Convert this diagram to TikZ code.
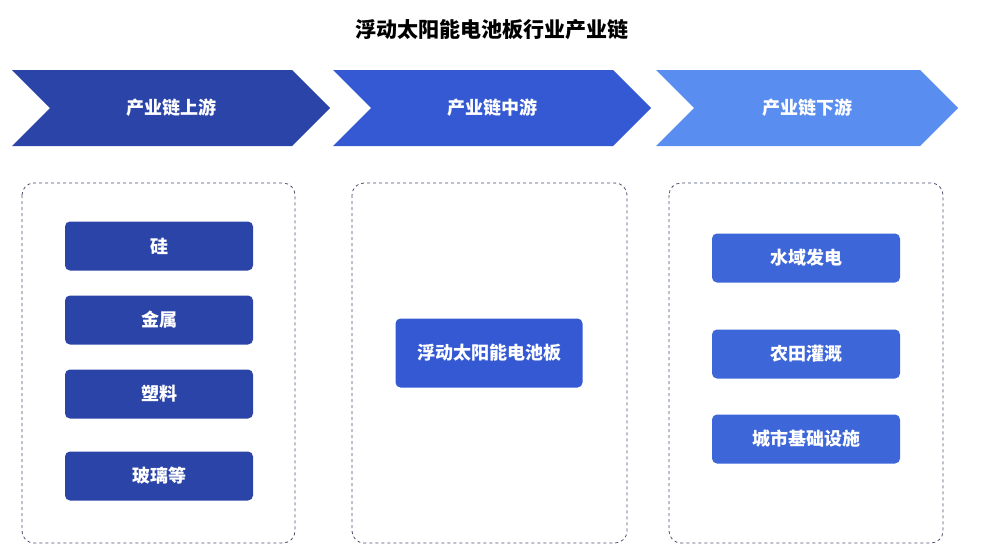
\documentclass[tikz,border=0pt]{standalone}
\usepackage{fontspec}
\setmainfont{Noto Sans CJK SC}
\usetikzlibrary{shapes.symbols}
\definecolor{updark}{HTML}{2B44A8}
\definecolor{midblue}{HTML}{3459D2}
\definecolor{downlight}{HTML}{5A8DF0}
\definecolor{frame}{HTML}{4A5070}
\tikzset{
  stage/.style={signal,signal to=east,signal from=west,signal pointer angle=90,
    minimum width=318pt,minimum height=76pt,inner sep=0pt,text=white,
    font=\bfseries\fontsize{18}{22}\selectfont},
  item/.style={draw=none,rounded corners=5pt,minimum width=188pt,minimum height=49pt,
    text=white,font=\bfseries\fontsize{18}{22}\selectfont},
  group/.style={draw=frame,dashed,rounded corners=12pt,line width=0.8pt}
}
\begin{document}
\begin{tikzpicture}[x=1pt,y=-1pt]
\useasboundingbox[fill=white] (0,0) rectangle (984,557);
%%
  \node (title) at (492,30) [font=\bfseries\fontsize{21}{25}\selectfont] {浮动太阳能电池板行业产业链};

  \node (stage_0) at (171,108) [stage,fill=updark] {产业链上游};
  \node (stage_1) at (492,108) [stage,fill=midblue] {产业链中游};
  \node (stage_2) at (807,108) [stage,fill=downlight,minimum width=302pt] {产业链下游};

  \draw [group] (22,183) rectangle (295,543);
  \draw [group] (352,183) rectangle (627,543);
  \draw [group] (669,183) rectangle (943,543);

  \node (up_0) at (159,246) [item,fill=updark] {硅};
  \node (up_1) at (159,320) [item,fill=updark] {金属};
  \node (up_2) at (159,394) [item,fill=updark] {塑料};
  \node (up_3) at (159,476) [item,fill=updark] {玻璃等};

  \node (mid_0) at (489,353) [item,fill=midblue,minimum width=187pt,minimum height=69pt] {浮动太阳能电池板};

  \node (down_0) at (806,258) [item,fill=midblue!75!downlight] {水域发电};
  \node (down_1) at (806,354) [item,fill=midblue!75!downlight] {农田灌溉};
  \node (down_2) at (806,439) [item,fill=midblue!75!downlight] {城市基础设施};
%
\end{tikzpicture}
\end{document}
